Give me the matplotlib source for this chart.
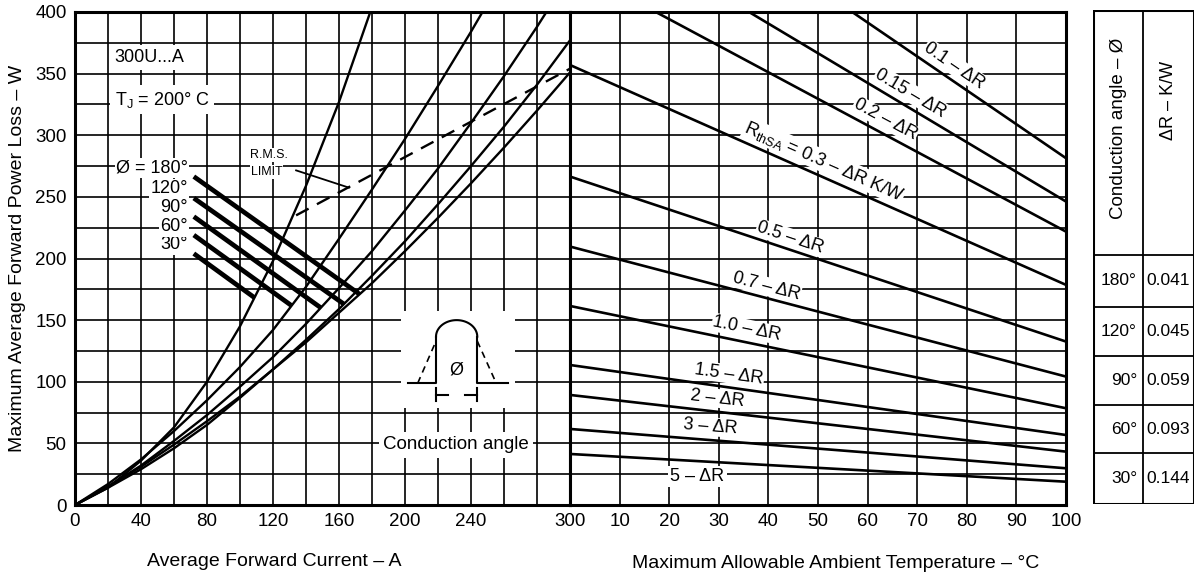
import numpy as np
import matplotlib
matplotlib.use("Agg")
import matplotlib.pyplot as plt
from matplotlib.patches import Rectangle

plt.rcParams['font.family'] = ['Liberation Sans', 'DejaVu Sans']
plt.rcParams['mathtext.fontset'] = 'custom'
plt.rcParams['mathtext.rm'] = 'Liberation Sans'
plt.rcParams['mathtext.it'] = 'Liberation Sans:italic'

# ---------------- data: left panel (power loss vs average forward current) ----------------
current_30 = [0, 20, 40, 60, 80, 100, 120, 140, 160, 180]
loss_30 = [0, 14, 36, 63, 100, 145, 198, 259, 327, 404]
current_60 = [0, 20, 40, 60, 80, 100, 120, 140, 160, 180, 200, 220, 240, 250]
loss_60 = [0, 17, 37, 60, 85, 112, 142, 177, 216, 256, 297, 340, 384, 407]
current_90 = [0, 20, 40, 60, 80, 100, 120, 140, 160, 180, 200, 220, 240, 260, 280, 290]
loss_90 = [0, 15, 32, 52, 73, 96, 120, 147, 176, 206, 239, 273, 310, 348, 388, 409]
current_120 = [0, 20, 40, 60, 80, 100, 120, 140, 160, 180, 200, 220, 240, 260, 280, 300]
loss_120 = [0, 15, 31, 49, 68, 88, 110, 134, 159, 186, 214, 244, 275, 307, 341, 377]
current_180 = [0, 20, 40, 60, 80, 100, 120, 140, 160, 180, 200, 220, 240, 260, 280, 300]
loss_180 = [0, 14, 29, 46, 65, 87, 110, 132, 156, 180, 206, 233, 261, 290, 320, 351]

# rating marks (thick lines), order 30, 60, 90, 120, 180 deg
mark_labels = ['30°', '60°', '90°', '120°', 'Ø = 180°']
mark_label_w = [211, 225.6, 241, 256.5, 273.5]
mark_i_start = [72, 72, 72, 72, 72]
mark_w_start = [204, 219, 234, 249, 266.5]
mark_i_end = [109, 131, 149, 163, 172.5]
mark_w_end = [168, 162, 160, 163, 171]

# R.M.S. limit (dashed)
rms_current = [134, 300]
rms_loss = [235, 354]

# ---------------- data: right panel (loss vs ambient temperature) ----------------
rth_labels = ['0.1 – ΔR', '0.15 – ΔR', '0.2 – ΔR',
              r'R$_{\mathrm{thSA}}$ = 0.3 – ΔR K/W', '0.5 – ΔR', '0.7 – ΔR',
              '1.0 – ΔR', '1.5 – ΔR', '2 – ΔR', '3 – ΔR', '5 – ΔR']
ta_start = [56.9, 36.1, 17.3, 0, 0, 0, 0, 0, 0, 0, 0]
p_start = [400, 400, 400, 357, 266.5, 209.7, 161.5, 113.6, 89.3, 61.7, 41.4]
ta_end = [100, 100, 100, 100, 100, 100, 100, 100, 100, 100, 100]
p_end = [281.4, 246.2, 221.8, 178.6, 132.6, 104.2, 78.5, 56.8, 43.3, 29.8, 18.9]
label_ta = [76, 67.3, 62.3, 50, 43.7, 39, 35.1, 31.7, 29.4, 28, 25.7]

# ---------------- data: table ----------------
table_angles = ['180°', '120°', '90°', '60°', '30°']
table_dr = ['0.041', '0.045', '0.059', '0.093', '0.144']

# ---------------- ticks ----------------
left_xticks = list(range(0, 301, 20))
left_xlabels = ['0', '', '40', '', '80', '', '120', '', '160', '', '200', '', '240', '', '', '300']
yticks = list(range(0, 401, 25))
ylabels = [str(v) if v % 50 == 0 else '' for v in yticks]
right_xticks = list(range(0, 101, 10))
right_xlabels = [''] + [str(v) for v in range(10, 101, 10)]

# ---------------- figure ----------------
W_PX, H_PX = 1200, 577
fig = plt.figure(figsize=(W_PX / 100, H_PX / 100), dpi=100)
L, R, X2 = 75 / W_PX, 570 / W_PX, 1066 / W_PX
B, T = 1 - 505 / H_PX, 1 - 12 / H_PX
ax1 = fig.add_axes([L, B, R - L, T - B])
ax2 = fig.add_axes([R, B, X2 - R, T - B])

FS = 13
TFS = 13.5
for ax, xt, xl, xmax in [(ax1, left_xticks, left_xlabels, 300), (ax2, right_xticks, right_xlabels, 100)]:
    ax.set_xlim(0, xmax)
    ax.set_ylim(0, 400)
    ax.set_xticks(xt)
    ax.set_xticklabels(xl, fontsize=TFS)
    ax.set_yticks(yticks)
    ax.set_axisbelow(True)
    ax.grid(True, color='black', lw=1.2)
    ax.tick_params(length=0, pad=6)
    for s in ax.spines.values():
        s.set_linewidth(2.2)
ax1.set_yticklabels(ylabels, fontsize=TFS)
ax2.set_yticklabels([])

# ----- left panel curves -----
LW = 1.7
for cx, cy in [(current_30, loss_30), (current_60, loss_60), (current_90, loss_90),
               (current_120, loss_120), (current_180, loss_180)]:
    ax1.plot(cx, cy, color='black', lw=LW, zorder=5, solid_joinstyle='round')

for i0, w0, i1, w1 in zip(mark_i_start, mark_w_start, mark_i_end, mark_w_end):
    ax1.plot([i0, i1], [w0, w1], color='black', lw=3.4, zorder=5, solid_capstyle='butt')

for lab, w in zip(mark_labels, mark_label_w):
    ax1.text(68.5, w, lab, ha='right', va='center', fontsize=FS, zorder=4,
             bbox=dict(fc='white', ec='none', pad=1.0))

ax1.plot(rms_current, rms_loss, color='black', lw=LW, ls=(0, (6, 4)), zorder=5)
ax1.text(117.5, 284, 'R.M.S.', ha='center', va='center', fontsize=9, zorder=4,
         bbox=dict(fc='white', ec='none', pad=0.5))
ax1.text(116, 270, 'LIMIT', ha='center', va='center', fontsize=9, zorder=4,
         bbox=dict(fc='white', ec='none', pad=0.5))
ax1.plot([134, 166], [271.5, 257.5], color='black', lw=1.3, zorder=5)

ax1.text(24, 363, '300U...A', ha='left', va='center', fontsize=FS, zorder=4,
         bbox=dict(fc='white', ec='none', pad=3))
ax1.text(24, 329, r'T$_{\mathrm{J}}$ = 200° C', ha='left', va='center', fontsize=FS, zorder=4,
         bbox=dict(fc='white', ec='none', pad=3))

# conduction angle sketch
ax1.add_patch(Rectangle((197.6, 78.5), 68.8, 78.5, fc='white', ec='none', zorder=2))
k = dict(color='black', lw=1.5, zorder=5)
ax1.plot([201.6, 218.8, 218.8], [98.8, 98.8, 136.6], **k)
ax1.plot([243.8, 243.8, 262.4], [136.6, 98.8, 98.8], **k)
th = np.linspace(0, np.pi, 60)
ax1.plot(231.3 + 12.5 * np.cos(th), 136.6 + 13.4 * np.sin(th), **k)
ax1.plot([207.7, 218.8], [98.8, 133], color='black', lw=1.2, ls=(0, (4, 3)), zorder=5)
ax1.plot([243.8, 255.3], [133, 98.8], color='black', lw=1.2, ls=(0, (4, 3)), zorder=5)
ax1.text(231.3, 103, 'Ø', ha='center', va='bottom', fontsize=FS, zorder=5)
ax1.plot([218.8, 218.8], [84, 95], **k)
ax1.plot([243.8, 243.8], [84, 95], **k)
ax1.plot([218.8, 226], [89.3, 89.3], **k)
ax1.plot([236.6, 243.8], [89.3, 89.3], **k)
ax1.text(231, 48.7, 'Conduction angle', ha='center', va='center', fontsize=FS + 0.5, zorder=4,
         bbox=dict(fc='white', ec='none', pad=3))

# ----- right panel lines -----
for lab, ts, ps, te, pe, tl in zip(rth_labels, ta_start, p_start, ta_end, p_end, label_ta):
    ax2.plot([ts, te], [ps, pe], color='black', lw=1.9, zorder=5)
    if lab.startswith('5 '):
        ax2.text(tl, 23, lab, ha='center', va='center', fontsize=FS, zorder=4,
                 bbox=dict(fc='white', ec='none', pad=1.5))
        continue
    y = np.interp(tl, [ts, te], [ps, pe])
    pA = ax2.transData.transform((ts, ps))
    pB = ax2.transData.transform((te, pe))
    ang = np.degrees(np.arctan2(pB[1] - pA[1], pB[0] - pA[0]))
    r = np.radians(ang)
    d = 2.0 if lab.startswith(('0.5', '0.7')) else 3.5
    ax2.annotate(lab, (tl, y), xytext=(-np.sin(r) * d, np.cos(r) * d),
                 textcoords='offset points', rotation=ang, rotation_mode='anchor',
                 ha='center', va='bottom', fontsize=FS, zorder=4,
                 bbox=dict(fc='white', ec='none', pad=0.6))

# ----- axis labels -----
fig.text(18 / W_PX, (B + T) / 2, 'Maximum Average Forward Power Loss – W', rotation=90,
         ha='center', va='center', fontsize=14)
fig.text(274 / W_PX, 1 - 562 / H_PX, 'Average Forward Current – A', ha='center', va='center',
         fontsize=14)
fig.text(836 / W_PX, 1 - 563 / H_PX, 'Maximum Allowable Ambient Temperature – °C',
         ha='center', va='center', fontsize=14)

# ----- table -----
tx0, tx1, ty0, ty1 = 1093, 1194, 10, 504
ax3 = fig.add_axes([tx0 / W_PX, 1 - ty1 / H_PX, (tx1 - tx0) / W_PX, (ty1 - ty0) / H_PX])
ax3.set_xlim(tx0, tx1)
ax3.set_ylim(ty1, ty0)
ax3.axis('off')
ax3.add_patch(Rectangle((tx0, ty0), tx1 - tx0, ty1 - ty0, fill=False, ec='black', lw=2.2))
xd = 1143.3
ax3.plot([xd, xd], [ty0, ty1], color='black', lw=1.3)
row_lines = [255, 306.7, 356, 405, 453.3]
for yl in row_lines:
    ax3.plot([tx0, tx1], [yl, yl], color='black', lw=1.3)
row_edges = row_lines + [ty1]
for a, dr, ya, yb in zip(table_angles, table_dr, row_edges[:-1], row_edges[1:]):
    yc = (ya + yb) / 2
    ax3.text(1137, yc, a, ha='right', va='center', fontsize=12.5)
    ax3.text(1168.5, yc, dr, ha='center', va='center', fontsize=12.5)
ax3.text((tx0 + xd) / 2, 128, 'Conduction angle – Ø', rotation=90, ha='center', va='center',
         fontsize=13.5)
ax3.text((xd + tx1) / 2, 100, 'ΔR – K/W', rotation=90, ha='center', va='center', fontsize=13)

fig.savefig('out.png', dpi=100)
